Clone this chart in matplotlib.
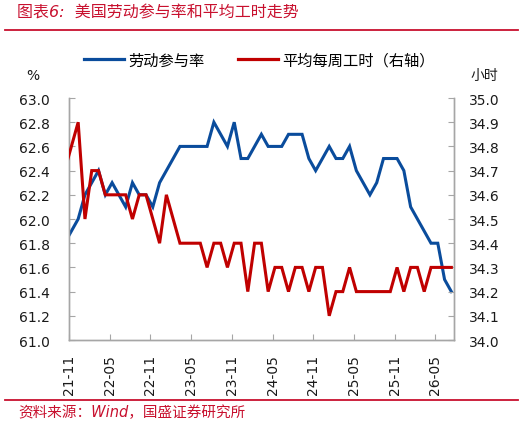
import numpy as np
import matplotlib
matplotlib.use("Agg")
import matplotlib.pyplot as plt
from matplotlib.lines import Line2D

plt.rcParams['font.family'] = ['DejaVu Sans', 'Noto Sans CJK SC']

# ---- data (monthly, 2021-10 .. 2026-07; the first month lies just left of the axis) ----
months = ['21-10', '21-11', '21-12',
          '22-01', '22-02', '22-03', '22-04', '22-05', '22-06', '22-07', '22-08', '22-09', '22-10', '22-11', '22-12',
          '23-01', '23-02', '23-03', '23-04', '23-05', '23-06', '23-07', '23-08', '23-09', '23-10', '23-11', '23-12',
          '24-01', '24-02', '24-03', '24-04', '24-05', '24-06', '24-07', '24-08', '24-09', '24-10', '24-11', '24-12',
          '25-01', '25-02', '25-03', '25-04', '25-05', '25-06', '25-07', '25-08', '25-09', '25-10', '25-11', '25-12',
          '26-01', '26-02', '26-03', '26-04', '26-05', '26-06', '26-07']

lfpr = [61.8, 61.9, 62.0,
        62.2, 62.3, 62.4, 62.2, 62.3, 62.2, 62.1, 62.3, 62.2, 62.2, 62.1, 62.3,
        62.4, 62.5, 62.6, 62.6, 62.6, 62.6, 62.6, 62.8, 62.7, 62.6, 62.8, 62.5,
        62.5, 62.6, 62.7, 62.6, 62.6, 62.6, 62.7, 62.7, 62.7, 62.5, 62.4, 62.5,
        62.6, 62.5, 62.5, 62.6, 62.4, 62.3, 62.2, 62.3, 62.5, 62.5, 62.5, 62.4,
        62.1, 62.0, 61.9, 61.8, 61.8, 61.5, 61.4]

hours = [34.7, 34.8, 34.9,
         34.5, 34.7, 34.7, 34.6, 34.6, 34.6, 34.6, 34.5, 34.6, 34.6, 34.5, 34.4,
         34.6, 34.5, 34.4, 34.4, 34.4, 34.4, 34.3, 34.4, 34.4, 34.3, 34.4, 34.4,
         34.2, 34.4, 34.4, 34.2, 34.3, 34.3, 34.2, 34.3, 34.3, 34.2, 34.3, 34.3,
         34.1, 34.2, 34.2, 34.3, 34.2, 34.2, 34.2, 34.2, 34.2, 34.2, 34.3, 34.2,
         34.3, 34.3, 34.2, 34.3, 34.3, 34.3, 34.3]

tick_labels = ['21-11', '22-05', '22-11', '23-05', '23-11', '24-05', '24-11', '25-05', '25-11', '26-05']

left_ticks = [61.0, 61.2, 61.4, 61.6, 61.8, 62.0, 62.2, 62.4, 62.6, 62.8, 63.0]
right_ticks = [34.0, 34.1, 34.2, 34.3, 34.4, 34.5, 34.6, 34.7, 34.8, 34.9, 35.0]

# ---- styles ----
BLUE = '#0A4C9C'
RED = '#C00000'
TXT_RED = '#C8102E'
SPINE = '#A6A6A6'
CJK = ['Noto Sans CJK SC', 'DejaVu Sans']
LATIN_FIRST = ['DejaVu Sans', 'Noto Sans CJK SC']

fig = plt.figure(figsize=(5.26, 4.27), dpi=100)
ax = fig.add_axes([0.1312, 0.2014, 0.7314, 0.5667])
ax2 = ax.twinx()

# x positions: month index relative to 21-11, with the point slightly right of the month tick
offset = 0.35
x = np.arange(len(months)) - 1 + offset

ax.plot(x, lfpr, color=BLUE, lw=2.2, solid_joinstyle='miter', zorder=3)
ax2.plot(x, hours, color=RED, lw=2.2, solid_joinstyle='miter', zorder=3)

ax.set_xlim(0, 56.7)
ax.set_ylim(61.0, 63.0)
ax2.set_ylim(34.0, 35.0)

tick_pos = [months.index(t) - 1 for t in tick_labels]
ax.set_xticks(tick_pos)
ax.set_xticklabels(tick_labels, rotation=90, fontsize=10, color='#1a1a1a')
ax.set_yticks(left_ticks)
ax.set_yticklabels([f'{v:.1f}' for v in left_ticks], fontsize=10, color='#1a1a1a')
ax2.set_yticks(right_ticks)
ax2.set_yticklabels([f'{v:.1f}' for v in right_ticks], fontsize=10, color='#1a1a1a')

for a in (ax, ax2):
    a.spines['top'].set_visible(False)
    for s in ('left', 'right', 'bottom'):
        a.spines[s].set_color(SPINE)
        a.spines[s].set_linewidth(1.0)
    a.set_facecolor('none')

ax.tick_params(axis='y', direction='in', length=4, color=SPINE, pad=14)
ax.tick_params(axis='x', direction='in', length=4, color=SPINE, pad=10)
ax2.tick_params(axis='y', direction='in', length=4, color=SPINE, pad=11)

# axis unit labels
fig.text(33 / 526, 1 - 76 / 427, '%', fontsize=10, ha='center', va='center', color='#1a1a1a')
fig.text(484 / 526, 1 - 76 / 427, '小时', fontsize=10, ha='center', va='center',
         color='#1a1a1a', family=CJK)

# legend
handles = [Line2D([], [], color=BLUE, lw=2.3), Line2D([], [], color=RED, lw=2.3)]
leg = fig.legend(handles, ['劳动参与率', '平均每周工时（右轴）'], ncol=2, frameon=False,
                 loc='center left', bbox_to_anchor=(84 / 526, 1 - 61 / 427),
                 prop={'family': CJK, 'size': 11}, handlelength=2.6, handletextpad=0.3,
                 columnspacing=2.2, borderpad=0, borderaxespad=0)

# title and source
fig.text(17 / 526, 1 - 13 / 427, '图表6:  美国劳动参与率和平均工时走势', fontsize=11.5,
         color=TXT_RED, ha='left', va='center', family=LATIN_FIRST, style='italic')
fig.add_artist(Line2D([5 / 526, 518 / 526], [1 - 31 / 427, 1 - 31 / 427],
                      color=TXT_RED, lw=1.3, transform=fig.transFigure))
fig.add_artist(Line2D([5 / 526, 518 / 526], [1 - 401 / 427, 1 - 401 / 427],
                      color=TXT_RED, lw=1.3, transform=fig.transFigure))
fig.text(18 / 526, 1 - 413 / 427, '资料来源：Wind，国盛证券研究所', fontsize=10.5,
         color=TXT_RED, ha='left', va='center', family=LATIN_FIRST, style='italic')

fig.savefig('out.png', dpi=100)
